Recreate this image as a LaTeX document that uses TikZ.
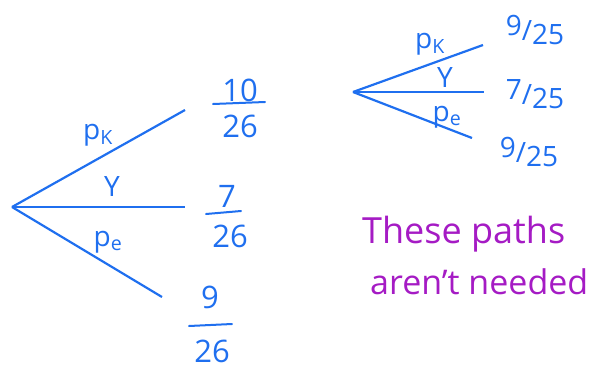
\documentclass[tikz,border=0pt]{standalone}
\usepackage{fontspec}
\setmainfont{Open Sans}
\definecolor{inkblue}{HTML}{1F6FEF}
\definecolor{inkpurple}{HTML}{A51BC4}
\begin{document}
\begin{tikzpicture}[x=1pt,y=-1pt,
  branch/.style={draw=inkblue,line width=2.2pt},
  lbl/.style={text=inkblue,font=\fontsize{28}{32}\selectfont,inner sep=0pt},
  num/.style={text=inkblue,font=\fontsize{31}{34}\selectfont,inner sep=0pt},
  bar/.style={draw=inkblue,line width=2pt,line cap=round},
  frac/.style={text=inkblue,font=\fontsize{28}{30}\selectfont,inner sep=0pt},
  note/.style={text=inkpurple,font=\fontsize{36}{40}\selectfont,inner sep=0pt,anchor=base west}]
\useasboundingbox (0,0) rectangle (602,370);
% left tree
\coordinate (L0) at (12,207);
\coordinate (L1) at (185,110);
\coordinate (L2) at (185,207);
\coordinate (L3) at (162,297);
\draw[branch] (L0) -- (L1);
\draw[branch] (L0) -- (L2);
\draw[branch] (L0) -- (L3);
\node[lbl] (lk) at (98,135) {p\textsubscript{K}};
\node[lbl] (ly) at (112,187) {Y};
\node[lbl] (le) at (108,242) {p\textsubscript{e}};
% fractions left
\node[num] (n1) at (240,90) {10};
\node[num] (d1) at (240,126) {26};
\coordinate (b1a) at (213,104); \coordinate (b1b) at (265,102);
\draw[bar] (b1a) -- (b1b);
\node[num] (n2) at (227,196) {7};
\node[num] (d2) at (230,236) {26};
\coordinate (b2a) at (206,214); \coordinate (b2b) at (241,211);
\draw[bar] (b2a) -- (b2b);
\node[num] (n3) at (210,297) {9};
\node[num] (d3) at (212,351) {26};
\coordinate (b3a) at (189,326); \coordinate (b3b) at (232,324);
\draw[bar] (b3a) -- (b3b);
% right tree
\coordinate (R0) at (353,92);
\coordinate (R1) at (483,45);
\coordinate (R2) at (484,92);
\coordinate (R3) at (472,138);
\draw[branch] (R0) -- (R1);
\draw[branch] (R0) -- (R2);
\draw[branch] (R0) -- (R3);
\node[lbl] (rk) at (430,44) {p\textsubscript{K}};
\node[lbl] (ry) at (445,78) {Y};
\node[lbl] (re) at (447,117) {p\textsubscript{e}};
\node[frac] (f1) at (535,30) {\raisebox{0.35ex}{9}/\raisebox{-0.25ex}{25}};
\node[frac] (f2) at (535,94) {\raisebox{0.35ex}{7}/\raisebox{-0.25ex}{25}};
\node[frac] (f3) at (529,152) {\raisebox{0.35ex}{9}/\raisebox{-0.25ex}{25}};
% note
\node[note] (t1) at (362,243) {These paths};
\node[note,font=\fontsize{34}{38}\selectfont] (t2) at (370,294) {aren\char"0027 t needed};
\end{tikzpicture}
\end{document}
